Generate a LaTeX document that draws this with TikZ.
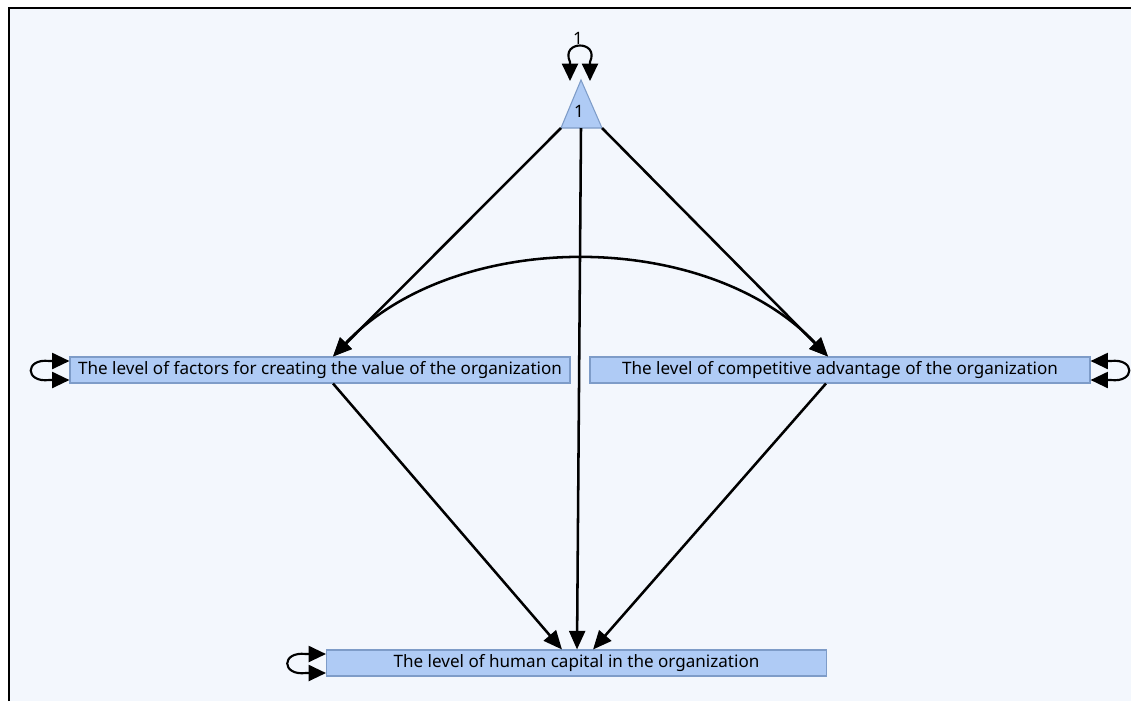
\documentclass[tikz,border=0pt]{standalone}
\usepackage{fontspec}
\setmainfont{Noto Sans}
\usetikzlibrary{arrows.meta,calc}

\definecolor{canvas}{HTML}{F3F7FD}
\definecolor{boxfill}{HTML}{AFCBF5}
\definecolor{boxline}{HTML}{7E9CC8}

\begin{document}
\begin{tikzpicture}[
  x=0.75pt, y=-0.75pt,
  font=\fontsize{12.8}{14}\selectfont,
  box/.style={draw=boxline, line width=0.8pt, fill=boxfill, inner sep=0pt, minimum width=375pt, minimum height=19.5pt},
  path/.style={-{Triangle[length=14pt, width=12pt]}, line width=1.9pt},
  both/.style={{Triangle[length=14pt, width=12pt]}-{Triangle[length=14pt, width=12pt]}, line width=1.9pt},
  loopy/.style={{Triangle[length=13pt, width=12pt]}-{Triangle[length=13pt, width=12pt]}, line width=1.6pt}
]
\useasboundingbox (0,0) rectangle (1131,701);
\fill[canvas] (9,8) rectangle (1131,701);
\draw[line width=2pt] (9,701) -- (9,8) -- (1131,8);

% latent constant
\coordinate (tA) at (581,80);
\coordinate (tL) at (561,128);
\coordinate (tR) at (602,128);
\coordinate (tB) at (581,128);
\filldraw[draw=boxline, line width=0.8pt, fill=boxfill] (tA) -- (tL) -- (tR) -- cycle;
\node (one) at (579,111) {\bfseries 1};
\node (onevar) at (578,38) {1};

% observed variables
\node[box] (fv) at (320,370) {The level of factors for creating the value of the organization};
\node[box] (ca) at (840,370) {The level of competitive advantage of the organization};
\node[box] (hc) at (576.5,663) {The level of human capital in the organization};

% paths from the constant
\draw[path] (tL) -- ($(fv.north west)!0.526!(fv.north east)$);
\draw[path] (tR) -- ($(ca.north west)!0.476!(ca.north east)$);
\draw[path] (tB) -- ($(hc.north west)!0.501!(hc.north east)$);

% covariance
\draw[both] ($(fv.north west)!0.526!(fv.north east)$) .. controls (455,228) and (706,228) .. ($(ca.north west)!0.476!(ca.north east)$);

% paths to human capital
\draw[path] ($(fv.south west)!0.526!(fv.south east)$) -- ($(hc.north west)!0.471!(hc.north east)$);
\draw[path] ($(ca.south west)!0.472!(ca.south east)$) -- ($(hc.north west)!0.533!(hc.north east)$);

% variances
\draw[loopy] (570,81) -- (570,62) .. controls (560,40) and (600,40) .. (590,62) -- (590,81);
\draw[loopy] ($(fv.west)+(0,-9)$) -- ($(fv.west)+(-20,-9)$) .. controls ($(fv.west)+(-45,-12)$) and ($(fv.west)+(-45,13)$) .. ($(fv.west)+(-20,10)$) -- ($(fv.west)+(0,10)$);
\draw[loopy] ($(ca.east)+(0,-9)$) -- ($(ca.east)+(20,-9)$) .. controls ($(ca.east)+(45,-12)$) and ($(ca.east)+(45,13)$) .. ($(ca.east)+(20,10)$) -- ($(ca.east)+(0,10)$);
\draw[loopy] ($(hc.west)+(0,-9)$) -- ($(hc.west)+(-20,-9)$) .. controls ($(hc.west)+(-45,-12)$) and ($(hc.west)+(-45,13)$) .. ($(hc.west)+(-20,10)$) -- ($(hc.west)+(0,10)$);
\end{tikzpicture}
\end{document}
